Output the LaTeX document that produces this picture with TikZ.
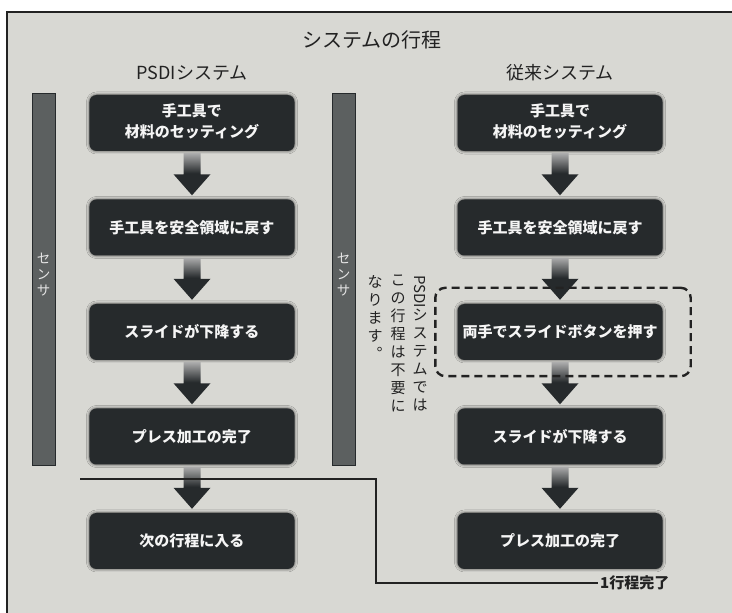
\documentclass[tikz,border=0pt]{standalone}
\usepackage{fontspec}
\usepackage{graphicx}
\setmainfont{Noto Sans CJK JP}
\usepackage{tikz}
\usetikzlibrary{matrix,calc,positioning,fit,shadows.blur}

\definecolor{boxdark}{RGB}{38,42,44}
\definecolor{paper}{RGB}{216,216,211}
\definecolor{sensorgray}{RGB}{92,96,96}
\definecolor{inkgray}{RGB}{34,34,34}

\tikzset{
  stepbox/.style={rectangle, rounded corners=7pt, fill=boxdark, text=gray!8,
    minimum width=205pt, text width=195pt, minimum height=56pt, align=center,
    font=\bfseries\fontsize{15}{21}\selectfont,
    blur shadow={shadow xshift=0pt, shadow yshift=0pt, shadow blur radius=3pt, shadow opacity=70}},
  flowarrow/.style={shade, top color=gray!55, bottom color=boxdark, middle color=boxdark,
    to path={($(\tikztostart)+(-8.5,-2)$) -- ($(\tikztostart)+(8.5,-2)$)
      -- ($(\tikztotarget)+(8.5,25)$) -- ($(\tikztotarget)+(18.5,25)$)
      -- ($(\tikztotarget)+(0,4)$) -- ($(\tikztotarget)+(-18.5,25)$)
      -- ($(\tikztotarget)+(-8.5,25)$) -- cycle}},
  sensorbar/.style={rectangle, draw=boxdark, line width=.8pt, fill=sensorgray,
    minimum width=23pt, minimum height=372pt, inner sep=0pt},
  sensortxt/.style={align=center, text=gray!20, inner sep=0pt,
    font=\fontsize{13.5}{16}\selectfont},
  notecol/.style={anchor=north, align=center, inner sep=0pt, text=inkgray,
    font=\fontsize{15}{18}\selectfont},
  skipbox/.style={draw=inkgray, dash pattern=on 8pt off 5pt, line width=2.4pt,
    rounded corners=10pt},
  titletxt/.style={text=inkgray, font=\fontsize{20}{24}\selectfont},
  headtxt/.style={text=inkgray, font=\fontsize{18}{22}\selectfont},
  donelbl/.style={text=inkgray, inner sep=2pt, font=\bfseries\fontsize{15}{18}\selectfont}
}

\begin{document}
\begin{tikzpicture}[x=1pt, y=1pt]
  \useasboundingbox (0,0) rectangle (732,613);
  \fill[white] (0,0) rectangle (732,613);
  \fill[paper] (7,0) rectangle (732,601);
  \draw[inkgray, line width=1.4pt] (7,0) -- (7,601) -- (732,601);

  \node[titletxt] (title) at (372,573) {システムの行程};
  \node[headtxt] (lhead) at (192,540) {PSDIシステム};
  \node[headtxt] (rhead) at (560,540) {従来システム};

  \node[sensorbar] (s1) at (43.5,334) {};
  \node[sensorbar] (s2) at (343.5,334) {};
  \node[sensortxt, below=160pt of s1.north] (s1t) {セ\\ン\\サ};
  \node[sensortxt, below=160pt of s2.north] (s2t) {セ\\ン\\サ};

  \matrix (lc) [matrix of nodes, row sep=48.5pt, nodes={stepbox}] at (192,281)
  {
\begin{tabular}{@{}c@{}}手工具で\\材料のセッティング\end{tabular} \\
手工具を安全領域に戻す \\
スライドが下降する \\
プレス加工の完了 \\
次の行程に入る \\
};
  \matrix (rc) [matrix of nodes, row sep=48.5pt, nodes={stepbox}] at (560,281)
  {
\begin{tabular}{@{}c@{}}手工具で\\材料のセッティング\end{tabular} \\
手工具を安全領域に戻す \\
両手でスライドボタンを押す \\
スライドが下降する \\
プレス加工の完了 \\
};

  \foreach \a/\b in {1/2,2/3,3/4,4/5}
  {
    \path[flowarrow] (lc-\a-1.south) to (lc-\b-1.north);
    \path[flowarrow] (rc-\a-1.south) to (rc-\b-1.north);
  }

  \node[skipbox, fit=(rc-3-1), inner xsep=25pt, inner ysep=16pt, xshift=3pt] (skip) {};

  \node[notecol] (n1) at (420,338) {\rotatebox{-90}{PSDI}\\シ\\ス\\テ\\ム\\で\\は};
  \node[notecol] (n2) at (398,338) {こ\\の\\行\\程\\は\\不\\要\\に};
  \node[notecol] (n3) at (375,338) {な\\り\\ま\\す\\︒};

  \coordinate (lnA) at (80,134);
  \coordinate (lnB) at (376,134);
  \node[donelbl, anchor=west] (done) at (598,30) {1行程完了};
  \draw[inkgray, line width=1.1pt] (lnA) -- (lnB) |- (done.west);
\end{tikzpicture}
\end{document}
